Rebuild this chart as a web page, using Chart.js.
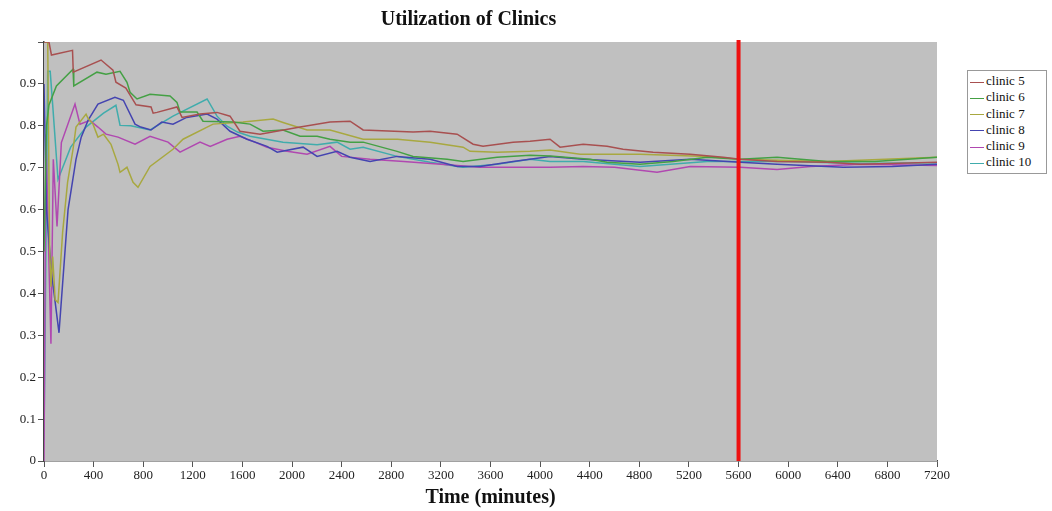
<!DOCTYPE html>
<html>
<head>
<meta charset="utf-8">
<script src="https://cdn.jsdelivr.net/npm/chart.js@4/dist/chart.umd.min.js"></script>
<style>
    body { margin: 0; background: #fff; }
    #wrap { position: relative; width: 1052px; height: 511px; }
    #legend {
        position: absolute; left: 967px; top: 70px; width: 76px;
        border: 1px solid #999; background: #fff; padding: 2px 0 2px 2px;
        font-family: "Liberation Serif", serif; font-size: 13px; color: #111;
    }
    #legend div { height: 16.3px; line-height: 16px; white-space: nowrap; }
    #legend span.sw { display: inline-block; width: 14px; height: 0; border-top: 1.5px solid; vertical-align: middle; margin-right: 2px; }
</style>
</head>
<body>
<div id="wrap">
    <canvas id="chart-clinics" width="1052" height="511"></canvas>
    <div id="legend"></div>
</div>
<script>
// values (time in minutes, utilization 0..1)
var clinicNames = ['clinic 5', 'clinic 6', 'clinic 7', 'clinic 8', 'clinic 9', 'clinic 10'];
var clinicColors = ['#a85050', '#44a044', '#a8a840', '#4444b0', '#b048b0', '#40acac'];

var clinic5Times = [0, 40, 60, 230, 236, 460, 556, 580, 660, 742, 863, 880, 911, 1072, 1113, 1258, 1395, 1500, 1580, 1742, 2065, 2306, 2468, 2573, 2976, 3113, 3331, 3460, 3540, 3782, 3919, 4080, 4161, 4347, 4540, 4669, 4911, 5210, 5476, 5613, 5911, 6315, 6580, 7200];
var clinic5Values = [1.0, 1.0, 0.969, 0.98, 0.928, 0.957, 0.933, 0.904, 0.89, 0.85, 0.845, 0.83, 0.832, 0.845, 0.82, 0.828, 0.832, 0.823, 0.787, 0.78, 0.797, 0.809, 0.811, 0.79, 0.785, 0.787, 0.78, 0.756, 0.751, 0.761, 0.763, 0.768, 0.749, 0.756, 0.751, 0.744, 0.737, 0.732, 0.725, 0.72, 0.715, 0.713, 0.708, 0.713];

var clinic6Times = [0, 20, 40, 100, 234, 240, 427, 500, 613, 669, 694, 750, 855, 1016, 1072, 1097, 1234, 1282, 1524, 1661, 1766, 1927, 2065, 2202, 2306, 2468, 2573, 2847, 2976, 3250, 3379, 3653, 3919, 4080, 4403, 4540, 4806, 5073, 5347, 5613, 5911, 6315, 6700, 7200];
var clinic6Values = [0.5, 0.8, 0.85, 0.895, 0.935, 0.895, 0.928, 0.923, 0.93, 0.904, 0.88, 0.864, 0.875, 0.871, 0.856, 0.833, 0.833, 0.811, 0.809, 0.804, 0.787, 0.79, 0.775, 0.775, 0.768, 0.761, 0.761, 0.739, 0.727, 0.72, 0.715, 0.725, 0.73, 0.728, 0.72, 0.713, 0.708, 0.715, 0.725, 0.72, 0.725, 0.715, 0.715, 0.725];

var clinic7Times = [0, 30, 45, 56, 70, 90, 113, 150, 190, 234, 258, 339, 355, 395, 435, 480, 540, 597, 613, 669, 718, 758, 855, 1040, 1121, 1363, 1605, 1847, 1927, 2121, 2306, 2573, 2850, 3113, 3379, 3435, 3653, 3919, 4080, 4323, 4806, 5347, 5613, 6315, 7200];
var clinic7Values = [1.0, 1.0, 0.51, 0.416, 0.488, 0.385, 0.378, 0.545, 0.665, 0.744, 0.797, 0.828, 0.818, 0.804, 0.773, 0.78, 0.756, 0.708, 0.689, 0.701, 0.665, 0.653, 0.703, 0.744, 0.768, 0.804, 0.809, 0.816, 0.808, 0.79, 0.79, 0.768, 0.768, 0.761, 0.749, 0.739, 0.737, 0.739, 0.742, 0.732, 0.732, 0.727, 0.72, 0.715, 0.725];

var clinic8Times = [0, 20, 60, 121, 194, 258, 300, 355, 435, 572, 640, 734, 780, 863, 950, 1040, 1150, 1315, 1395, 1500, 1637, 1798, 1880, 2089, 2202, 2363, 2468, 2629, 2847, 3113, 3331, 3516, 3782, 4080, 4347, 4806, 5210, 5613, 5911, 6444, 6840, 7200];
var clinic8Values = [0.9, 0.6, 0.45, 0.306, 0.6, 0.72, 0.773, 0.813, 0.852, 0.868, 0.861, 0.804, 0.797, 0.79, 0.809, 0.804, 0.82, 0.828, 0.816, 0.787, 0.768, 0.751, 0.737, 0.749, 0.727, 0.739, 0.725, 0.715, 0.727, 0.72, 0.703, 0.703, 0.715, 0.727, 0.72, 0.713, 0.72, 0.713, 0.708, 0.701, 0.703, 0.708];

var clinic9Times = [0, 15, 56, 75, 105, 140, 250, 290, 370, 435, 500, 597, 734, 855, 1000, 1097, 1258, 1340, 1476, 1580, 1700, 1798, 1960, 2121, 2306, 2400, 2629, 2900, 3200, 3516, 3919, 4080, 4347, 4600, 4943, 5210, 5613, 5911, 6180, 6580, 7200];
var clinic9Values = [0, 0.78, 0.28, 0.72, 0.56, 0.76, 0.852, 0.804, 0.813, 0.797, 0.78, 0.773, 0.756, 0.775, 0.761, 0.737, 0.761, 0.751, 0.768, 0.775, 0.761, 0.749, 0.739, 0.732, 0.751, 0.727, 0.72, 0.715, 0.708, 0.701, 0.701, 0.701, 0.703, 0.701, 0.689, 0.703, 0.701, 0.696, 0.703, 0.708, 0.705];

var clinic10Times = [0, 30, 50, 70, 113, 215, 339, 480, 580, 613, 700, 855, 1040, 1315, 1395, 1476, 1560, 1661, 1927, 2202, 2363, 2468, 2573, 2847, 3113, 3379, 3653, 3919, 4080, 4347, 4806, 5347, 5613, 6000, 6600, 7200];
var clinic10Values = [0.05, 0.93, 0.93, 0.85, 0.672, 0.749, 0.797, 0.83, 0.849, 0.801, 0.8, 0.79, 0.823, 0.864, 0.823, 0.799, 0.785, 0.775, 0.761, 0.755, 0.761, 0.744, 0.749, 0.727, 0.713, 0.701, 0.708, 0.72, 0.715, 0.715, 0.703, 0.715, 0.715, 0.715, 0.71, 0.712];

var cutoffTime = 5600;
var xTicksMax = 7200;

function toPoints(times, values){
    return times.map(function(t, i){ return {x: t, y: values[i]}; });
}

var seriesTimes = [clinic5Times, clinic6Times, clinic7Times, clinic8Times, clinic9Times, clinic10Times];
var seriesValues = [clinic5Values, clinic6Values, clinic7Values, clinic8Values, clinic9Values, clinic10Values];

var datasets = [];
for (var i = 0; i < clinicNames.length; i++){
    datasets.push({
        label: clinicNames[i],
        data: toPoints(seriesTimes[i], seriesValues[i]),
        borderColor: clinicColors[i],
        backgroundColor: clinicColors[i],
        borderWidth: 1.5,
        pointRadius: 0,
        tension: 0,
    });
}

// grey plot background + the red cut-off line
var plotExtras = {
    id: 'plotExtras',
    beforeDatasetsDraw: function(chart){
        var a = chart.chartArea, ctx = chart.ctx;
        ctx.save();
        ctx.fillStyle = '#c0c0c0';
        ctx.fillRect(a.left, a.top, a.right - a.left, a.bottom - a.top);
        ctx.restore();
    },
    afterDatasetsDraw: function(chart){
        var a = chart.chartArea, ctx = chart.ctx;
        var x = chart.scales.x.getPixelForValue(cutoffTime);
        ctx.save();
        ctx.strokeStyle = '#ee1111';
        ctx.lineWidth = 4;
        ctx.beginPath();
        ctx.moveTo(x, a.top - 2);
        ctx.lineTo(x, a.bottom);
        ctx.stroke();
        ctx.restore();
    }
};

var serif = '"Liberation Serif", "Times New Roman", serif';

var config = {
    type: 'line',
    data: { datasets: datasets },
    options: {
        responsive: false,
        animation: false,
        layout: { padding: { left: 0, right: 115, top: 0, bottom: 0 } },
        plugins: {
            legend: { display: false },
            tooltip: { enabled: false },
            title: {
                display: true,
                text: 'Utilization of Clinics',
                color: '#111',
                font: { family: serif, size: 20, weight: 'bold' },
                padding: { top: 8, bottom: 10 },
            }
        },
        scales: {
            x: {
                type: 'linear',
                min: 0,
                max: xTicksMax,
                afterFit: function(scale){ scale.height = 50; },
                ticks: {
                    stepSize: 400,
                    color: '#222',
                    padding: 1,
                    maxRotation: 0,
                    autoSkip: false,
                    font: { family: serif, size: 13 },
                    callback: function(v){ return String(v); }
                },
                grid: { drawOnChartArea: false, drawTicks: true, tickLength: 6, color: '#555' },
                border: { display: true, color: '#444', width: 1.5 },
                title: {
                    display: true,
                    text: 'Time (minutes)',
                    color: '#111',
                    font: { family: serif, size: 20, weight: 'bold' },
                    padding: { top: 0, bottom: 1 },
                }
            },
            y: {
                type: 'linear',
                min: 0,
                max: 1,
                afterFit: function(scale){ scale.width = 44; },
                ticks: {
                    stepSize: 0.1,
                    color: '#222',
                    padding: 2,
                    font: { family: serif, size: 13 },
                    callback: function(v){
                        if (v >= 1) return '';
                        return String(Number(v.toFixed(1)));
                    }
                },
                grid: { drawOnChartArea: false, drawTicks: true, tickLength: 6, color: '#555' },
                border: { display: true, color: '#444', width: 1.5 },
            }
        }
    },
    plugins: [plotExtras]
};

var chart = new Chart(document.getElementById('chart-clinics'), config);

// legend box on the right
var legendBox = document.getElementById('legend');
chart.data.datasets.forEach(function(ds){
    var row = document.createElement('div');
    var sw = document.createElement('span');
    sw.className = 'sw';
    sw.style.borderTopColor = ds.borderColor;
    row.appendChild(sw);
    row.appendChild(document.createTextNode(ds.label));
    legendBox.appendChild(row);
});
</script>
</body>
</html>
